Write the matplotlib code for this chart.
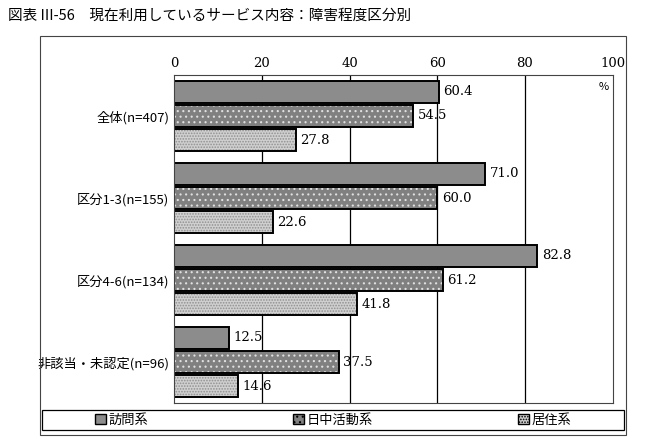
import matplotlib
matplotlib.use("Agg")
import matplotlib.pyplot as plt
import numpy as np
from matplotlib.patches import Rectangle

plt.rcParams['font.family'] = ['Noto Sans CJK JP']
plt.rcParams['hatch.linewidth'] = 0.8
categories = ["全体(n=407)", "区分1-3(n=155)", "区分4-6(n=134)", "非該当・未認定(n=96)"]
series = ["訪問系", "日中活動系", "居住系"]
houmon = [60.4, 71.0, 82.8, 12.5]
nicchu = [54.5, 60.0, 61.2, 37.5]
kyoju = [27.8, 22.6, 41.8, 14.6]
ticks = [0, 20, 40, 60, 80, 100]

fig = plt.figure(figsize=(6.47, 4.41), dpi=100)
fig.text(0.012, 0.965, "図表 III-56　現在利用しているサービス内容：障害程度区分別", fontsize=10.5, va='center')
fig.patches.append(Rectangle((0.062, 0.013), 0.905, 0.905, transform=fig.transFigure, fill=False, lw=0.8, ec='#444'))
ax = fig.add_axes([0.269, 0.086, 0.678, 0.744])
n = len(categories)
y = np.arange(n)
h = 0.27
styles = [dict(color='#8c8c8c', hatch=None, hc=None),
          dict(color='#808080', hatch='...', hc='#e0e0e0'),
          dict(color='#d0d0d0', hatch='......', hc='#909090')]
for k, vals in enumerate([houmon, nicchu, kyoju]):
    st = styles[k]
    pos = y + (k - 1) * 0.295
    ax.barh(pos, vals, height=h, color=st['color'], hatch=st['hatch'], edgecolor=st['hc'] or 'black', lw=0)
    ax.barh(pos, vals, height=h, fill=False, edgecolor='black', lw=1.4)
    for p, v in zip(pos, vals):
        ax.text(v + 1, p, f"{v:.1f}", va='center', fontsize=9.5, family='DejaVu Serif')
ax.set_ylim(n - 0.5, -0.5)
ax.set_xlim(0, 100)
ax.set_yticks(y)
ax.set_yticklabels(categories, fontsize=9.5)
ax.set_xticks(ticks)
ax.set_xticklabels([str(t) for t in ticks], fontsize=9.5, family='DejaVu Serif')
ax.xaxis.tick_top()
ax.tick_params(length=0)
for t in ticks[1:-1]:
    ax.axvline(t, color='black', lw=0.9, zorder=0)
for s in ax.spines.values():
    s.set_color('#444'); s.set_linewidth(0.8)
ax.text(99, -0.42, "%", fontsize=8, ha='right', va='top')
handles = [Rectangle((0, 0), 1, 1, fc=st['color'], hatch=st['hatch'], ec='black') for st in styles]
leg = fig.legend(handles, series, loc='center', bbox_to_anchor=(0.515, 0.047), ncol=3, frameon=False,
                 fontsize=9.5, handlelength=0.8, handleheight=0.8, handletextpad=0.2,
                 columnspacing=11, borderpad=0.2, bbox_transform=fig.transFigure)
fig.patches.append(Rectangle((0.065, 0.025), 0.9, 0.045, transform=fig.transFigure, fill=False, lw=0.9, ec='black'))
fig.savefig("out.png", dpi=100)
